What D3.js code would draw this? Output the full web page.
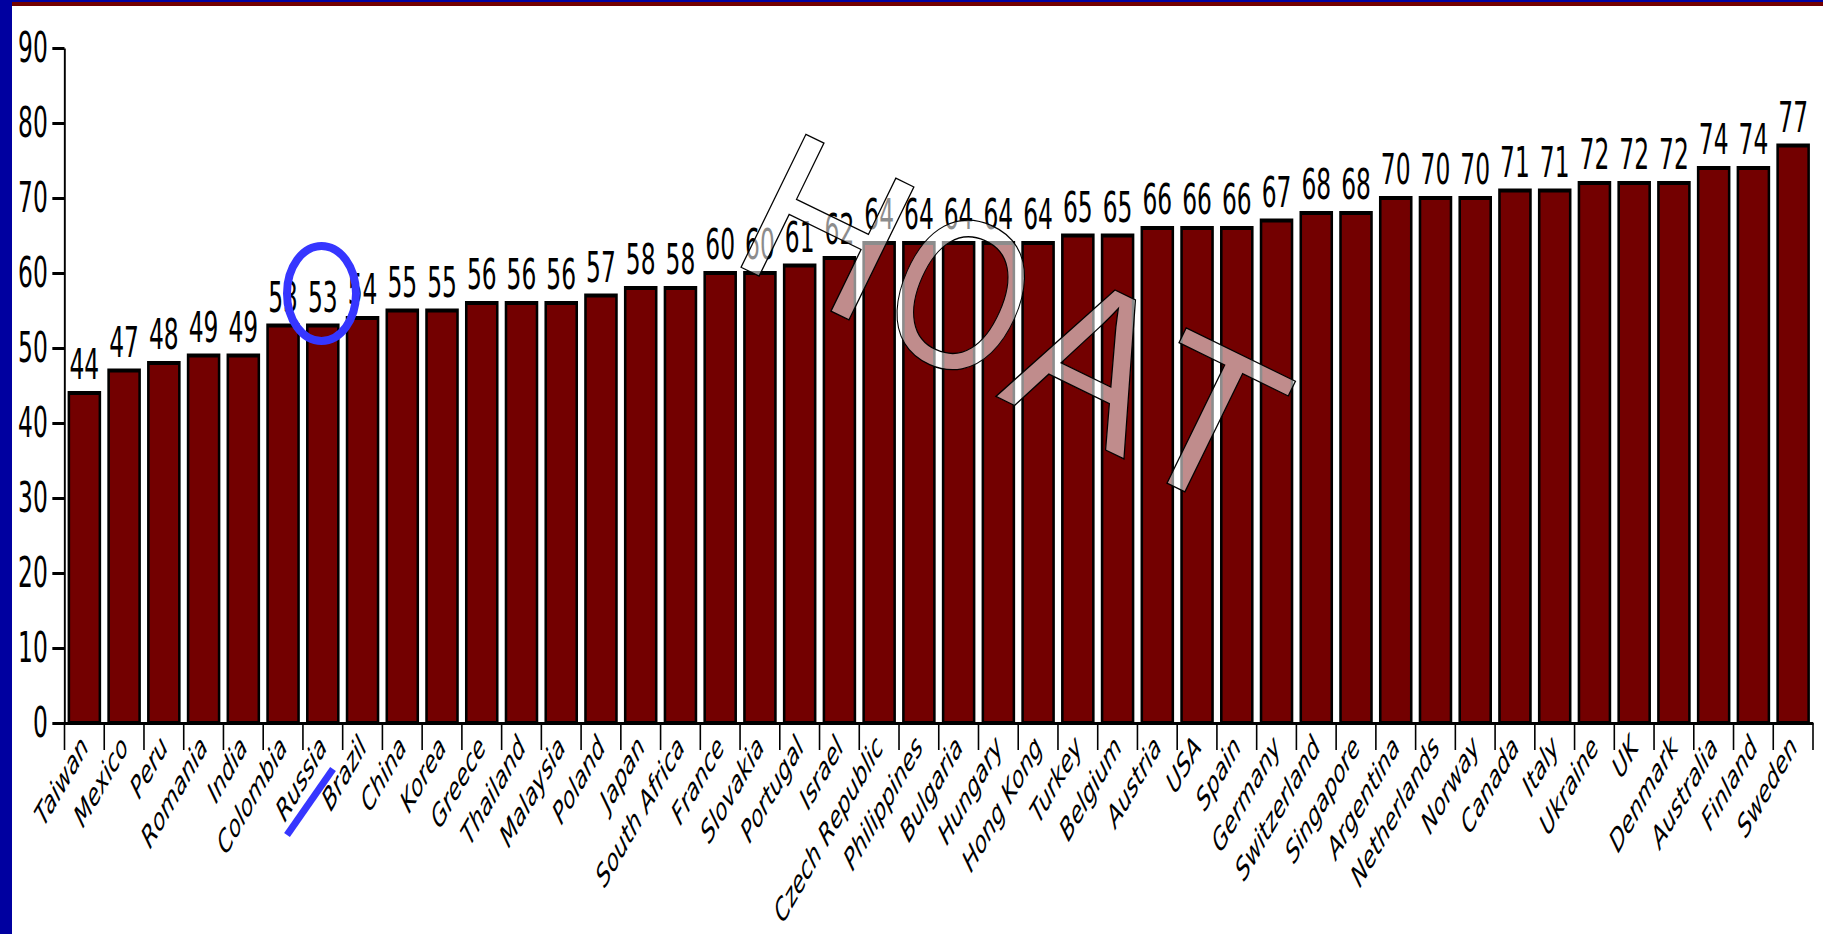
<!DOCTYPE html>
<html>
<head>
<meta charset="utf-8">
<script src="https://cdn.jsdelivr.net/npm/d3@7"></script>
<style>
  html, body { margin: 0; padding: 0; background: #fff; overflow: hidden; }
  svg { display: block; }
</style>
</head>
<body>
<script>
// Country scores, sorted ascending
const categories = [
  "Taiwan", "Mexico", "Peru", "Romania", "India", "Colombia", "Russia", "Brazil",
  "China", "Korea", "Greece", "Thailand", "Malaysia", "Poland", "Japan", "South Africa",
  "France", "Slovakia", "Portugal", "Israel", "Czech Republic", "Philippines", "Bulgaria",
  "Hungary", "Hong Kong", "Turkey", "Belgium", "Austria", "USA", "Spain", "Germany",
  "Switzerland", "Singapore", "Argentina", "Netherlands", "Norway", "Canada", "Italy",
  "Ukraine", "UK", "Denmark", "Australia", "Finland", "Sweden"
];
const values = [
  44, 47, 48, 49, 49, 53, 53, 54,
  55, 55, 56, 56, 56, 57, 58, 58,
  60, 60, 61, 62, 64, 64, 64,
  64, 64, 65, 65, 66, 66, 66, 67,
  68, 68, 70, 70, 70, 71, 71,
  72, 72, 72, 74, 74, 77
];
const yTicks = [0, 10, 20, 30, 40, 50, 60, 70, 80, 90];
const overlayLetters = ["H", "O", "A", "T"];

const W = 1823, H = 934;
const SX = 0.64;            // horizontal compression of the chart body
const TX = 0.87;            // extra narrowing of the numeric labels
const FONT = "'DejaVu Sans', Verdana, sans-serif";

const svg = d3.select("body").append("svg")
  .attr("width", W).attr("height", H)
  .attr("viewBox", `0 0 ${W} ${H}`);

svg.append("rect").attr("width", W).attr("height", H).attr("fill", "#fff");

// chart body, drawn in a horizontally compressed frame
const g = svg.append("g").attr("transform", `scale(${SX},1)`);

const xLeft = 64.5 / SX, xRight = 1813 / SX;
const x = d3.scaleBand()
  .domain(categories)
  .range([xLeft, xRight])
  .paddingInner(0.22)
  .paddingOuter(0.11);
const y = d3.scaleLinear().domain([0, 90]).range([723, 48]);

// bars
g.append("g").selectAll("rect")
  .data(values)
  .join("rect")
  .attr("x", (d, i) => x(categories[i]))
  .attr("y", d => y(d))
  .attr("width", x.bandwidth())
  .attr("height", d => y(0) - y(d))
  .attr("fill", "#730000")
  .attr("stroke", "#000")
  .attr("stroke-width", 4);

// value labels
g.append("g").selectAll("text")
  .data(values)
  .join("text")
  .attr("transform", (d, i) =>
    `translate(${x(categories[i]) + x.bandwidth() / 2},${y(d) - 14}) scale(${TX},1)`)
  .attr("text-anchor", "middle")
  .attr("font-family", FONT)
  .attr("font-size", 42)
  .attr("fill", "#000")
  .text(d => d);

// y axis
const yAxisG = g.append("g")
  .attr("transform", `translate(${xLeft},0)`)
  .call(d3.axisLeft(y).tickValues(yTicks).tickSize(19).tickPadding(7).tickSizeOuter(0));
yAxisG.select(".domain").attr("stroke", "#000").attr("stroke-width", 3);
yAxisG.selectAll(".tick line").attr("stroke", "#000").attr("stroke-width", 3);
yAxisG.selectAll(".tick text")
  .attr("x", null)
  .attr("transform", `translate(-26,0) scale(${TX},1)`)
  .attr("font-family", FONT).attr("font-size", 42).attr("fill", "#000");

// x axis: baseline plus ticks at category boundaries
const xAxisG = g.append("g")
  .attr("transform", `translate(0,${y(0)})`)
  .call(d3.axisBottom(x).tickSize(0).tickSizeOuter(0).tickFormat(""));
xAxisG.select(".domain").attr("stroke", "#000").attr("stroke-width", 3);
xAxisG.selectAll(".tick").remove();

const boundaries = categories
  .map(c => x(c) - x.step() * x.paddingInner() / 2)
  .concat([x.range()[1]]);
xAxisG.append("g").selectAll("line")
  .data(boundaries)
  .join("line")
  .attr("x1", d => d).attr("x2", d => d)
  .attr("y1", 0).attr("y2", 27)
  .attr("stroke", "#000").attr("stroke-width", 2.5);

// category labels
g.append("g").selectAll("text")
  .data(categories)
  .join("text")
  .attr("transform", c => `translate(${x(c) + x.bandwidth() / 2},741) rotate(-48)`)
  .attr("text-anchor", "end")
  .attr("dy", "0.35em")
  .attr("font-family", FONT)
  .attr("font-style", "italic")
  .attr("font-size", 31)
  .attr("fill", "#000")
  .text(c => c);

// outlined letters laid across the bars
const letterPos = [
  { cx: 829, cy: 224, r: 26, s: 1 },
  { cx: 962, cy: 292, r: 24, s: 0.8 },
  { cx: 1094, cy: 358, r: 26, s: 1 },
  { cx: 1210, cy: 418, r: 26, s: 1 }
];
svg.append("g").selectAll("text")
  .data(overlayLetters)
  .join("text")
  .attr("transform", (d, i) => {
    const p = letterPos[i];
    return `translate(${p.cx},${p.cy}) rotate(${p.r}) scale(${p.s},1)`;
  })
  .attr("text-anchor", "middle")
  .attr("dy", "0.36em")
  .attr("font-family", "'Liberation Sans', Arial, sans-serif")
  .attr("font-size", 215)
  .attr("fill", "#fff")
  .attr("fill-opacity", 0.55)
  .attr("stroke", "#000")
  .attr("stroke-width", 1.3)
  .text(d => d);

// hand-drawn highlight around Russia
svg.append("ellipse")
  .attr("cx", 321.5).attr("cy", 293.5)
  .attr("rx", 34.5).attr("ry", 47.5)
  .attr("fill", "none")
  .attr("stroke", "#3636ff")
  .attr("stroke-width", 8);
svg.append("line")
  .attr("x1", 287).attr("y1", 835)
  .attr("x2", 333).attr("y2", 769)
  .attr("stroke", "#3636ff")
  .attr("stroke-width", 7);

// slide frame: top rules and left band
svg.append("rect").attr("x", 0).attr("y", 0).attr("width", W).attr("height", 2).attr("fill", "#0000a0");
svg.append("rect").attr("x", 0).attr("y", 2).attr("width", W).attr("height", 4).attr("fill", "#730000");
svg.append("rect").attr("x", 0).attr("y", 0).attr("width", 12).attr("height", H).attr("fill", "#0000a0");
</script>
</body>
</html>
